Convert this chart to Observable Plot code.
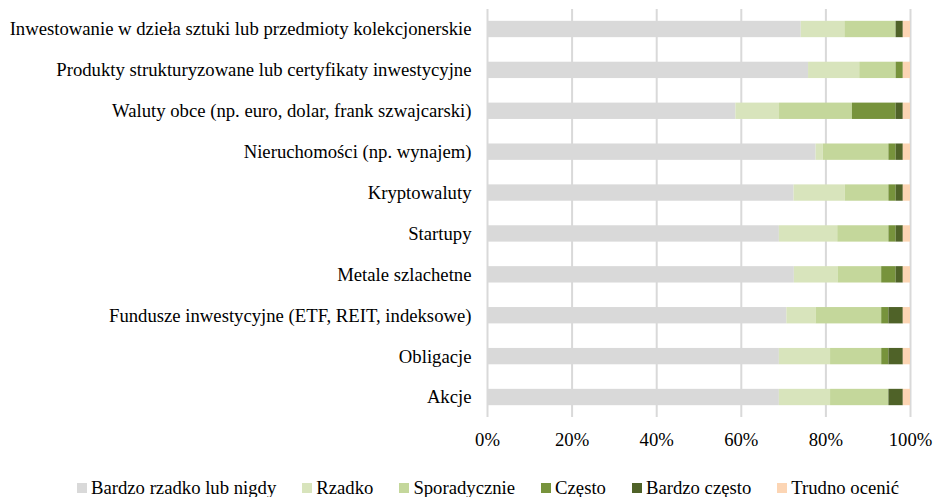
<!DOCTYPE html>
<html><head><meta charset="utf-8">
<script src="https://cdn.jsdelivr.net/npm/d3@7"></script>
<script src="https://cdn.jsdelivr.net/npm/@observablehq/plot@0.6"></script>
<style>
body{margin:0;background:#fff;}
#chart{width:934px;}
#chart svg text{font-family:"Liberation Serif","Times New Roman",serif !important;}
.lg-swatches{padding-left:77px;margin:0 !important;min-height:0 !important;font-family:"Liberation Serif","Times New Roman",serif !important;font-size:18.7px !important;color:#000;line-height:20px;}
.lg-swatch{margin-right:26px !important;}
.lg-swatch > svg{margin-right:4px !important;}
</style></head><body><div id="chart"></div><script>
const categories = [
  "Inwestowanie w dzieła sztuki lub przedmioty kolekcjonerskie",
  "Produkty strukturyzowane lub certyfikaty inwestycyjne",
  "Waluty obce (np. euro, dolar, frank szwajcarski)",
  "Nieruchomości (np. wynajem)",
  "Kryptowaluty",
  "Startupy",
  "Metale szlachetne",
  "Fundusze inwestycyjne (ETF, REIT, indeksowe)",
  "Obligacje",
  "Akcje"
];
const series = ["Bardzo rzadko lub nigdy","Rzadko","Sporadycznie","Często","Bardzo często","Trudno ocenić"];
const colors = ["#d9d9d9","#d8e4bc","#c4d79b","#77933c","#4f6228","#fcd5b4"];
const bardzoRzadko = [74.1,75.9,58.6,77.6,72.4,69.0,72.4,70.7,69.0,69.0];
const rzadko       = [10.3,12.1,10.3,1.7,12.1,13.8,10.3,6.9,12.1,12.1];
const sporadycznie = [12.1,8.6,17.2,15.5,10.3,12.1,10.3,15.5,12.1,13.8];
const czesto       = [0,1.7,10.3,1.7,1.7,1.7,3.4,1.7,1.7,0];
const bardzoCzesto = [1.7,0,1.7,1.7,1.7,1.7,1.7,3.4,3.4,3.4];
const trudno       = [1.7,1.7,1.7,1.7,1.7,1.7,1.7,1.7,1.7,1.7];
const xTicks = [0,0.2,0.4,0.6,0.8,1];

const seriesValues = [bardzoRzadko, rzadko, sporadycznie, czesto, bardzoCzesto, trudno];
const data = [];
categories.forEach((c, i) => {
  series.forEach((s, j) => data.push({category: c, series: s, value: seriesValues[j][i]}));
});

const font = '"Liberation Serif", serif';
const plot = Plot.plot({
  width: 934, height: 478,
  marginLeft: 487, marginRight: 24, marginTop: 9, marginBottom: 61,
  style: {fontFamily: font, fontSize: "18.7px", color: "#000", background: "#fff"},
  x: {domain: [0, 1]},
  y: {domain: categories, paddingInner: 0.6, paddingOuter: 0.289, round: false},
  color: {domain: series, range: colors},
  marks: [
    Plot.gridX(xTicks, {stroke: "#d9d9d9", strokeOpacity: 1, strokeWidth: 2}),
    Plot.barX(data, Plot.stackX({offset: "normalize", x: "value", y: "category", fill: "series"})),
    Plot.axisX(xTicks, {tickSize: 0, tickPadding: 15, tickFormat: d3.format(".0%"), label: null, fontSize: 18.7}),
    Plot.axisY({tickSize: 0, tickPadding: 16, label: null, fontSize: 18.7})
  ]
});
plot.style.display = "block";
const legend = Plot.legend({color: {domain: series, range: colors}, swatchSize: 10, className: "lg"});
const el = document.getElementById("chart");
el.appendChild(plot);
el.appendChild(legend);
</script></body></html>
